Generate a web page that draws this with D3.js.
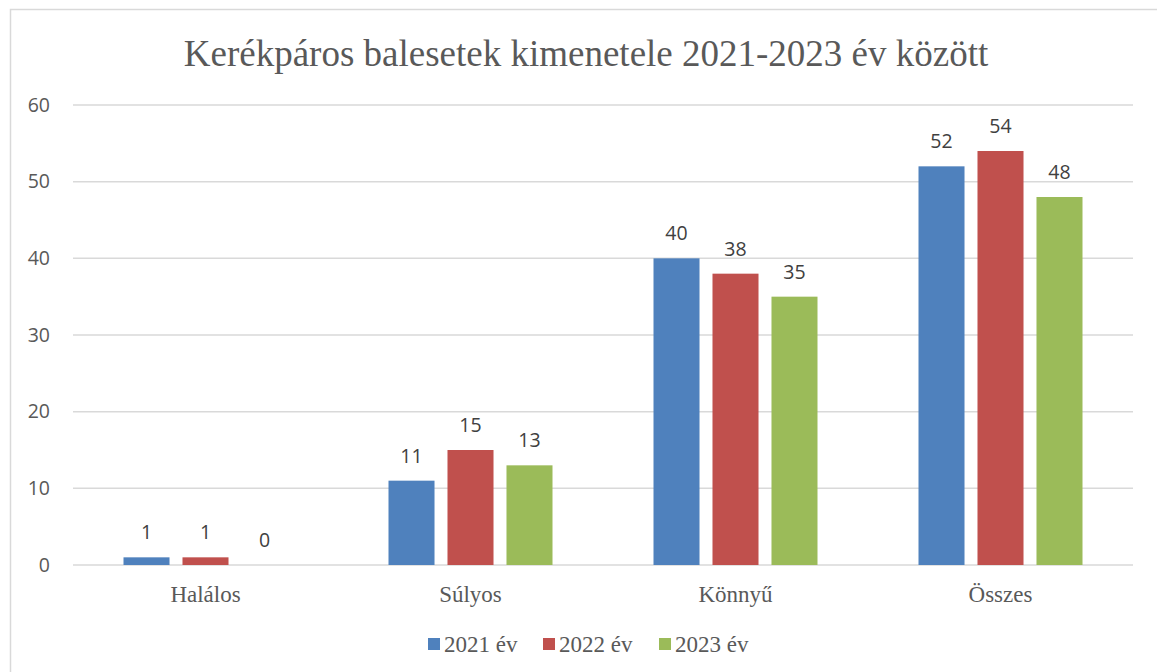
<!DOCTYPE html>
<html>
<head>
<meta charset="utf-8">
<script src="https://cdn.jsdelivr.net/npm/d3@7"></script>
<style>
  body { margin: 0; background: #fff; }
  svg { display: block; }
</style>
</head>
<body>
<svg id="chart"></svg>
<script>
const categories = ['Halálos', 'Súlyos', 'Könnyű', 'Összes'];
const seriesNames = ['2021 év', '2022 év', '2023 év'];
const values2021 = [1, 11, 40, 52];
const values2022 = [1, 15, 38, 54];
const values2023 = [0, 13, 35, 48];
const yTicks = [0, 10, 20, 30, 40, 50, 60];
const colors = ['#4f81bd', '#c0504d', '#9bbb59'];

const width = 1157, height = 672;
const margin = {top: 105, right: 24, bottom: 107, left: 73};
const innerWidth = width - margin.left - margin.right;
const innerHeight = height - margin.top - margin.bottom;

const serif = '"Liberation Serif", "Times New Roman", serif';
const sans = '"Open Sans", "Noto Sans", sans-serif';

const svg = d3.select('#chart').attr('width', width).attr('height', height);

// chart area border: only the left and top edges fall inside the frame
svg.append('path')
    .attr('d', `M10.5,${height}V9.5H${width}`)
    .attr('fill', 'none')
    .attr('stroke', '#d9d9d9')
    .attr('stroke-width', 1.5);

svg.append('text')
    .attr('x', 586).attr('y', 66)
    .attr('text-anchor', 'middle')
    .style('font-family', serif)
    .style('font-size', '37px')
    .attr('fill', '#595959')
    .text('Kerékpáros balesetek kimenetele 2021-2023 év között');

const g = svg.append('g').attr('transform', `translate(${margin.left},${margin.top})`);

const x0 = d3.scaleBand().domain(categories).range([0, innerWidth]).paddingInner(0).paddingOuter(0);
const y = d3.scaleLinear().domain([0, 60]).range([innerHeight, 0]);

// inner scale: 3 bars + 2 gaps, centered in band
const groupW = 164;
const x1 = d3.scaleBand().domain(seriesNames)
    .range([(x0.bandwidth() - groupW) / 2, (x0.bandwidth() + groupW) / 2])
    .paddingInner(0.22);

// gridlines
g.append('g')
    .selectAll('line')
    .data(yTicks)
    .join('line')
    .attr('x1', 0).attr('x2', innerWidth)
    .attr('y1', d => y(d)).attr('y2', d => y(d))
    .attr('stroke', '#d9d9d9')
    .attr('stroke-width', 1.5);

// y axis labels
const yAxis = g.append('g').call(d3.axisLeft(y).tickValues(yTicks).tickSize(0).tickPadding(23));
yAxis.select('.domain').remove();
yAxis.selectAll('text')
    .style('font-family', sans)
    .style('font-size', '19.5px')
    .attr('fill', '#595959');

// x axis labels
const xAxis = g.append('g')
    .attr('transform', `translate(0,${innerHeight})`)
    .call(d3.axisBottom(x0).tickSize(0).tickPadding(21));
xAxis.select('.domain').remove();
xAxis.selectAll('text')
    .style('font-family', serif)
    .style('font-size', '23px')
    .attr('fill', '#595959');

const allSeries = [values2021, values2022, values2023];
const rows = categories.map((c, i) => ({
    cat: c,
    vals: seriesNames.map((s, j) => ({series: s, value: allSeries[j][i], color: colors[j]}))
}));

const groups = g.selectAll('.grp')
    .data(rows)
    .join('g')
    .attr('class', 'grp')
    .attr('transform', d => `translate(${x0(d.cat)},0)`);

groups.selectAll('rect')
    .data(d => d.vals)
    .join('rect')
    .attr('x', d => x1(d.series))
    .attr('y', d => y(d.value))
    .attr('width', x1.bandwidth())
    .attr('height', d => innerHeight - y(d.value))
    .attr('fill', d => d.color);

groups.selectAll('text.lbl')
    .data(d => d.vals)
    .join('text')
    .attr('class', 'lbl')
    .attr('x', d => x1(d.series) + x1.bandwidth() / 2)
    .attr('y', d => y(d.value) - 18)
    .attr('text-anchor', 'middle')
    .style('font-family', sans)
    .style('font-size', '19.5px')
    .attr('fill', '#404040')
    .text(d => d.value);

// legend
const legend = svg.append('g').attr('transform', 'translate(428,652)');
const legendX = [0, 115, 231];
seriesNames.forEach((s, i) => {
    const lg = legend.append('g').attr('transform', `translate(${legendX[i]},0)`);
    lg.append('rect').attr('x', 0).attr('y', -14).attr('width', 12).attr('height', 12).attr('fill', colors[i]);
    lg.append('text')
        .attr('x', 16).attr('y', 0)
        .style('font-family', serif)
        .style('font-size', '23px')
        .attr('fill', '#595959')
        .text(s);
});
</script>
</body>
</html>
